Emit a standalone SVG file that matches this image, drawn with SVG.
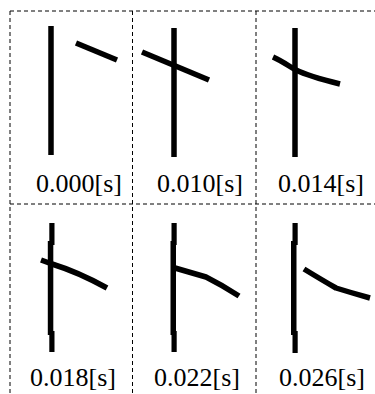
<svg xmlns="http://www.w3.org/2000/svg" width="375" height="394" viewBox="0 0 375 394">
<style>
.grid{stroke:#000;stroke-width:1;stroke-dasharray:4 3;fill:none}
.bar{stroke:#000;stroke-width:5.5;fill:none;stroke-linejoin:round}
.seg{fill:#000}
.lbl{font-family:"Liberation Serif","Times New Roman",serif;font-size:26px;fill:#000}
</style>
<rect width="375" height="394" fill="#fff"/>
<g id="grid">
<line class="grid" x1="10" y1="11" x2="375" y2="11"/>
<line class="grid" x1="10" y1="204" x2="375" y2="204"/>
<line class="grid" x1="10" y1="11" x2="10" y2="394"/>
<line class="grid" x1="132.5" y1="11" x2="132.5" y2="394"/>
<line class="grid" x1="256" y1="11" x2="256" y2="394"/>
</g>
<g id="p1">
<line class="bar" x1="51" y1="26" x2="51" y2="155"/>
<line class="bar" x1="76" y1="43" x2="117" y2="60"/>
<text class="lbl" x="36" y="191.5">0.000[s]</text>
</g>
<g id="p2">
<line class="bar" x1="174" y1="28" x2="174" y2="157"/>
<line class="bar" x1="142" y1="52" x2="209" y2="80"/>
<text class="lbl" x="157" y="191.5">0.010[s]</text>
</g>
<g id="p3">
<line class="bar" x1="295" y1="28" x2="295" y2="157"/>
<path class="bar" d="M273,57 C284,62 290,67 296,70 C304,74 320,79 340,84"/>
<text class="lbl" x="278" y="191.5">0.014[s]</text>
</g>
<g id="p4">
<rect class="seg" x="49.3" y="223" width="5.2" height="22"/>
<rect class="seg" x="47.8" y="241" width="5.5" height="94"/>
<rect class="seg" x="49.3" y="331" width="5.2" height="21"/>
<path class="bar" d="M41,260 L52,264 Q78,272 107,288"/>
<text class="lbl" x="30" y="385.5">0.018[s]</text>
</g>
<g id="p5">
<rect class="seg" x="171.5" y="223" width="5.2" height="22"/>
<rect class="seg" x="170.5" y="241" width="5.5" height="94"/>
<rect class="seg" x="171.5" y="331" width="5.2" height="21"/>
<path class="bar" d="M175,268 L206,277 Q222,285 239,296"/>
<text class="lbl" x="154" y="385.5">0.022[s]</text>
</g>
<g id="p6">
<rect class="seg" x="292.5" y="223" width="5.2" height="22"/>
<rect class="seg" x="291" y="241" width="5.5" height="94"/>
<rect class="seg" x="292.5" y="331" width="5.2" height="22"/>
<path class="bar" d="M304,269 Q322,280 336,288 Q352,293 370,298"/>
<text class="lbl" x="279" y="385.5">0.026[s]</text>
</g>
</svg>
